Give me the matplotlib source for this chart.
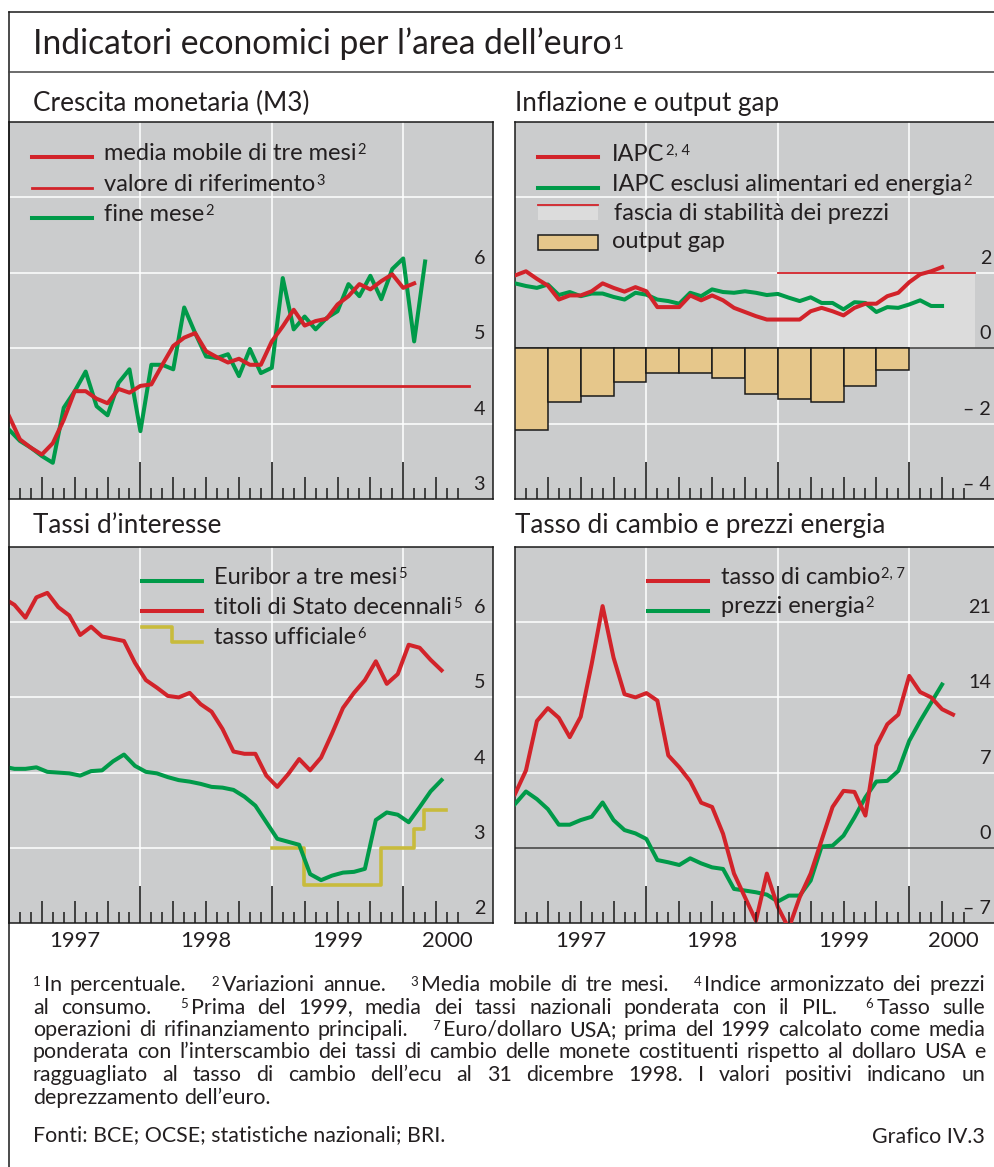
import numpy as np
import matplotlib
matplotlib.use('Agg')
import matplotlib.pyplot as plt
from matplotlib.lines import Line2D
from matplotlib.patches import Rectangle
from matplotlib.transforms import offset_copy

W, H = 994, 1167
FONT = ['Lato', 'DejaVu Sans']
plt.rcParams['font.family'] = FONT

BG = '#cbcccd'
BAND = '#dcdcdc'
RED = '#d2232a'
GREEN = '#009a49'
YELLOW = '#c8bb3c'
TAN = '#e6c78b'
TXT = '#231f20'
INK = '#1a1a1a'

# --- data (months since Jan 1997) ---
# Crescita monetaria (M3)
m3_fine_mese = [3.92, 3.77, 3.68, 3.57, 3.48, 4.21, 4.43, 4.69, 4.23, 4.11, 4.54, 4.72,
                3.90, 4.78, 4.78, 4.72, 5.54, 5.20, 4.89, 4.87, 4.92, 4.63, 4.99, 4.67,
                4.74, 5.93, 5.25, 5.42, 5.25, 5.40, 5.49, 5.85, 5.69, 5.96, 5.65, 6.05,
                6.19, 5.09, 6.15]
m3_media = [4.10, 3.79, 3.68, 3.59, 3.74, 4.05, 4.43, 4.43, 4.33, 4.27, 4.46, 4.41,
            4.50, 4.52, 4.78, 5.03, 5.14, 5.20, 4.96, 4.88, 4.81, 4.86, 4.78, 4.78,
            5.09, 5.29, 5.51, 5.30, 5.36, 5.39, 5.58, 5.69, 5.85, 5.78, 5.89, 5.98,
            5.80, 5.86]
ref_x = [24, 42]
ref_y = [4.5, 4.5]

# Inflazione e output gap
iapc = [1.93, 2.04, 1.84, 1.66, 1.29, 1.40, 1.40, 1.51, 1.72, 1.60, 1.50, 1.62,
        1.51, 1.09, 1.09, 1.09, 1.40, 1.27, 1.40, 1.27, 1.07, 0.96, 0.85, 0.76,
        0.76, 0.76, 0.76, 0.98, 1.07, 0.98, 0.87, 1.07, 1.18, 1.18, 1.38, 1.47,
        1.75, 1.96, 2.04, 2.15]
iapc_core = [1.72, 1.65, 1.60, 1.69, 1.41, 1.49, 1.38, 1.45, 1.45, 1.36, 1.29, 1.47,
             1.42, 1.29, 1.25, 1.18, 1.47, 1.38, 1.56, 1.49, 1.47, 1.51, 1.47, 1.41,
             1.44, 1.34, 1.25, 1.35, 1.20, 1.20, 1.03, 1.22, 1.20, 0.96, 1.09, 1.07,
             1.16, 1.27, 1.12, 1.12]
gap_q = [0, 3, 6, 9, 12, 15, 18, 21, 24, 27, 30, 33]
output_gap = [-2.18, -1.43, -1.26, -0.89, -0.67, -0.67, -0.79, -1.21, -1.36, -1.42, -0.99, -0.57]
band_x = [24, 42]
band_lo, band_hi = 0, 2

# Tassi d'interesse (mid-month, from Dec 1996)
rate_x = np.arange(-1, 40) + 0.5
titoli_10y = [6.32, 6.23, 6.06, 6.33, 6.39, 6.20, 6.09, 5.83, 5.94, 5.81, 5.78, 5.75,
              5.46, 5.23, 5.13, 5.02, 5.00, 5.06, 4.91, 4.81, 4.58, 4.28, 4.25, 4.25,
              3.96, 3.81, 3.98, 4.18, 4.03, 4.20, 4.52, 4.86, 5.06, 5.23, 5.48, 5.18,
              5.31, 5.70, 5.66, 5.50, 5.36]
euribor_3m = [4.08, 4.05, 4.05, 4.07, 4.01, 4.00, 3.99, 3.96, 4.02, 4.03, 4.15, 4.24,
              4.09, 4.01, 3.99, 3.94, 3.90, 3.88, 3.85, 3.81, 3.80, 3.77, 3.68, 3.56,
              3.34, 3.12, 3.08, 3.04, 2.65, 2.57, 2.63, 2.67, 2.68, 2.72, 3.37, 3.47,
              3.44, 3.34, 3.54, 3.75, 3.90]
tu_x = [24, 26.9, 34.0, 37.0, 37.9, 39.9]
tu_y = [3.0, 2.5, 3.0, 3.25, 3.5, 3.5]

# Tasso di cambio e prezzi energia
cambio = [5.0, 7.2, 11.8, 13.0, 12.1, 10.3, 12.2, 17.1, 22.5, 17.7, 14.3, 14.0,
          14.4, 13.7, 8.6, 7.5, 6.2, 4.2, 3.8, 1.3, -2.4, -4.6, -6.8, -2.4,
          -5.5, -7.5, -4.6, -2.4, 0.7, 3.8, 5.3, 5.2, 3.0, 9.5, 11.5, 12.4,
          16.0, 14.5, 14.0, 12.9, 12.4]
energia = [4.07, 5.24, 4.53, 3.60, 2.15, 2.15, 2.58, 2.89, 4.22, 2.58, 1.65, 1.34,
           0.82, -1.14, -1.35, -1.60, -0.98, -1.45, -1.82, -1.97, -3.83, -3.98, -4.14, -4.36,
           -5.0, -4.45, -4.45, -3.05, 0.12, 0.20, 1.13, 2.83, 4.70, 6.17, 6.23, 7.16,
           9.95, 11.8, 13.5, 15.2]

year_pos = [6, 18, 30, 40]
year_labels = ['1997', '1998', '1999', '2000']

fig = plt.figure(figsize=(W / 100, H / 100), dpi=100)
fig.patch.set_facecolor('white')
renderer = fig.canvas.get_renderer()

LEG, LEG_SUP = 17.0, 10.5


def fx(x):
    return x / W


def fy(y):
    return 1 - y / H


def fline(xs, ys, **kw):
    fig.add_artist(Line2D([fx(v) for v in xs], [fy(v) for v in ys], **kw))


def stext(x, y, s, sup=None, size=LEG, sup_size=LEG_SUP, rise=6, color=TXT, ha='left'):
    t = fig.text(fx(x), fy(y), s, fontsize=size, va='baseline', ha=ha, color=color)
    w = t.get_window_extent(renderer).width
    if sup:
        fig.text(fx(x + w + 1), fy(y - rise), sup, fontsize=sup_size, va='baseline',
                 ha='left', color=color)
    return w


def panel(x, y, w, h, ylim, grid, labels, zero=False):
    ax = fig.add_axes([fx(x), fy(y + h), w / W, h / H])
    ax.set_facecolor(BG)
    ax.set_xlim(0, 44.2)
    ax.set_ylim(*ylim)
    ax.set_xticks([])
    ax.set_yticks([])
    for s in ax.spines.values():
        s.set_linewidth(1.1)
        s.set_color(INK)
    for g in grid:
        ax.axhline(g, color='white', lw=1.1, zorder=1)
    if zero:
        ax.axhline(0, color='#4a4a4a', lw=1.2, zorder=2.5)
    months = np.arange(1, 42)
    lens = np.where(months % 12 == 0, 37, np.where(months % 3 == 0, 22, 11))
    xt = ax.get_xaxis_transform()
    ax.vlines(months, 0, lens / h, transform=xt, color=INK, lw=1.1, zorder=5)
    ax.vlines([12, 24, 36], 37 / h, 1, transform=xt, color='white', lw=1.1, zorder=1)
    tr = offset_copy(ax.get_yaxis_transform(), fig=fig, x=-8, y=9, units='dots')
    for v, lab in labels:
        ax.text(1, v, lab, transform=tr, ha='right', va='baseline', fontsize=14.2,
                color=TXT, zorder=6)
    return ax


def years(ax):
    tr = offset_copy(ax.get_xaxis_transform(), fig=fig, x=0, y=-24, units='dots')
    for p, lab in zip(year_pos, year_labels):
        ax.text(p, 0, lab, transform=tr, ha='center', va='baseline', fontsize=15.8,
                color=TXT, clip_on=False)


LW = 2.9

# frame and title
fline([9, W], [12, 12], color=INK, lw=1.1)
fline([9, 9], [12, H], color=INK, lw=1.1)
fline([9, W], [72, 72], color='#444444', lw=1.1)
stext(33, 54, 'Indicatori economici per l’area dell’euro', '1', size=24.2, sup_size=13.5, rise=5)

SUB = 18.8
stext(33, 111, 'Crescita monetaria (M3)', size=SUB)
stext(515, 111, 'Inflazione e output gap', size=SUB)
stext(33, 533, 'Tassi d’interesse', size=SUB)
stext(515, 533, 'Tasso di cambio e prezzi energia', size=SUB)

# --- top left: M3 ---
ax1 = panel(9, 122, 484, 377, (3, 8), [4, 5, 6, 7],
            [(3, '3'), (4, '4'), (5, '5'), (6, '6')])
ax1.plot(ref_x, ref_y, color=RED, lw=2.0, zorder=3)
ax1.plot(np.arange(len(m3_fine_mese)), m3_fine_mese, color=GREEN, lw=LW, zorder=3)
ax1.plot(np.arange(len(m3_media)), m3_media, color=RED, lw=LW, zorder=4)

fline([32, 92], [157, 157], color=RED, lw=LW)
fline([32, 92], [188, 188], color=RED, lw=2.0)
fline([32, 92], [218, 218], color=GREEN, lw=LW)
stext(104, 160, 'media mobile di tre mesi', '2')
stext(104, 191, 'valore di riferimento', '3')
stext(104, 221, 'fine mese', '2')

# --- top right: inflation ---
ax2 = panel(515, 122, 484, 377, (-4, 6), [-2, 2, 4],
            [(-4, '– 4'), (-2, '– 2'), (0, '0'), (2, '2')], zero=True)
ax2.fill_between(band_x, band_lo, band_hi, color=BAND, lw=0, zorder=0.5)
ax2.plot(band_x, [band_hi, band_hi], color=RED, lw=1.3, zorder=2)
ax2.bar(gap_q, output_gap, width=3, align='edge', color=TAN, edgecolor=INK, lw=1.1, zorder=3)
ax2.plot(np.arange(len(iapc_core)), iapc_core, color=GREEN, lw=LW, zorder=4)
ax2.plot(np.arange(len(iapc)), iapc, color=RED, lw=LW, zorder=4)

fline([538, 598], [157, 157], color=RED, lw=LW)
fline([538, 598], [188, 188], color=GREEN, lw=LW)
fig.add_artist(Rectangle((fx(538), fy(220)), 60 / W, 13 / H, color=BAND, lw=0))
fline([538, 598], [205, 205], color=RED, lw=1.3)
fig.add_artist(Rectangle((fx(538), fy(250)), 60 / W, 15 / H, facecolor=TAN, edgecolor=INK, lw=1.1))
stext(612, 161, 'IAPC', '2, 4')
stext(612, 191, 'IAPC esclusi alimentari ed energia', '2')
stext(614, 220, 'fascia di stabilità dei prezzi')
stext(612, 248, 'output gap')

# --- bottom left: interest rates ---
ax3 = panel(9, 547, 484, 376, (2, 7), [3, 4, 5, 6],
            [(2, '2'), (3, '3'), (4, '4'), (5, '5'), (6, '6')])
ax3.plot(tu_x, tu_y, drawstyle='steps-post', color=YELLOW, lw=2.6, zorder=3)
ax3.plot(rate_x, euribor_3m, color=GREEN, lw=LW, zorder=4)
ax3.plot(rate_x, titoli_10y, color=RED, lw=LW, zorder=4)
years(ax3)

fline([142, 202], [581, 581], color=GREEN, lw=LW)
fline([142, 202], [611, 611], color=RED, lw=LW)
fline([142, 172, 172, 202], [627, 627, 642, 642], color=YELLOW, lw=2.6)
stext(214, 584, 'Euribor a tre mesi', '5')
stext(214, 614, 'titoli di Stato decennali', '5')
stext(214, 644, 'tasso ufficiale', '6')

# --- bottom right: exchange rate and energy ---
ax4 = panel(515, 547, 484, 376, (-7, 28), [7, 14, 21],
            [(-7, '– 7'), (0, '0'), (7, '7'), (14, '14'), (21, '21')], zero=True)
ax4.plot(np.arange(len(energia)), energia, color=GREEN, lw=LW, zorder=4)
ax4.plot(np.arange(len(cambio)), cambio, color=RED, lw=LW, zorder=4)
years(ax4)

fline([648, 708], [581, 581], color=RED, lw=LW)
fline([648, 708], [611, 611], color=GREEN, lw=LW)
stext(721, 584, 'tasso di cambio', '2, 7')
stext(721, 613, 'prezzi energia', '2')

# --- footnotes, justified between x=33 and x=985 ---
notes = [
    ('^1 In percentuale. ^2 Variazioni annue. ^3 Media mobile di tre mesi. '
     '^4 Indice armonizzato dei prezzi', True),
    ('al consumo. ^5 Prima del 1999, media dei tassi nazionali ponderata con il PIL. '
     '^6 Tasso sulle', True),
    ('operazioni di rifinanziamento principali. ^7 Euro/dollaro USA; prima del 1999 '
     'calcolato come media', True),
    ('ponderata con l’interscambio dei tassi di cambio delle monete costituenti rispetto '
     'al dollaro USA e', True),
    ('ragguagliato al tasso di cambio dell’ecu al 31 dicembre 1998. I valori positivi '
     'indicano un', True),
    ('deprezzamento dell’euro.', False),
]
FN, FS = 15.4, 9.5


def measure(s, size):
    t = fig.text(0, 0, s, fontsize=size)
    w = t.get_window_extent(renderer).width
    t.remove()
    return w


space = measure('a b', FN) - measure('ab', FN)
x0, x1 = 33, 985
for i, (line, just) in enumerate(notes):
    y = 991 + i * 22.5
    toks = []
    sup = None
    for word in line.split(' '):
        if word.startswith('^'):
            sup = word[1:]
            continue
        toks.append((sup, word))
        sup = None
    widths = []
    for s, wd in toks:
        w = measure(wd, FN)
        if s:
            w += measure(s, FS) + 3
        widths.append(w)
    gaps = [space * 4 if toks[k + 1][0] else space for k in range(len(toks) - 1)]
    extra = 0
    if just and gaps:
        extra = (x1 - x0 - sum(widths) - sum(gaps)) / len(gaps)
    x = x0
    for k, (s, wd) in enumerate(toks):
        if s:
            sw = stext(x, y - 5.5, s, size=FS)
            stext(x + sw + 3, y, wd, size=FN)
        else:
            stext(x, y, wd, size=FN)
        if k < len(gaps):
            x += widths[k] + gaps[k] + extra

stext(33, 1141, 'Fonti: BCE; OCSE; statistiche nazionali; BRI.', size=FN)
stext(985, 1143, 'Grafico IV.3', size=FN, ha='right')

fig.savefig('out.png', dpi=100, facecolor='white')
